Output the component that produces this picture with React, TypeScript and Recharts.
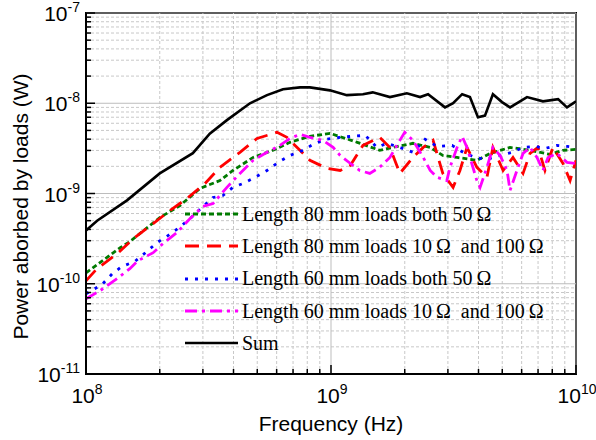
import React from 'react'
import {
  LineChart,
  Line,
  XAxis,
  YAxis,
  Legend,
  ReferenceArea,
  ReferenceLine,
} from 'recharts'

// frequency in Hz, absorbed power in W
const sumFreq = [1e8, 1.11e8, 1.47e8, 2.0e8, 2.73e8, 3.2e8, 3.76e8, 4.67e8, 5.48e8, 6.37e8, 7.47e8, 8.2e8, 9.9e8, 1.16e9, 1.35e9, 1.48e9, 1.74e9, 2.04e9, 2.31e9, 2.49e9, 2.92e9, 3.15e9, 3.43e9, 3.69e9, 3.98e9, 4.25e9, 4.58e9, 4.99e9, 5.38e9, 6.31e9, 7.33e9, 8.45e9, 9.19e9, 1e10]
const sumPower = [3.9e-10, 5.0e-10, 8.4e-10, 1.67e-9, 2.8e-9, 4.6e-9, 6.5e-9, 1.0e-8, 1.23e-8, 1.43e-8, 1.5e-8, 1.5e-8, 1.39e-8, 1.23e-8, 1.26e-8, 1.32e-8, 1.17e-8, 1.29e-8, 1.17e-8, 1.26e-8, 9.0e-9, 1.0e-8, 1.26e-8, 1.17e-8, 7.0e-9, 7.3e-9, 1.26e-8, 1.03e-8, 9.0e-9, 1.17e-8, 1.05e-8, 1.11e-8, 9.0e-9, 1.05e-8]

const l80bothFreq = [1e8, 1.14e8, 1.38e8, 1.51e8, 2.0e8, 2.42e8, 2.92e8, 3.52e8, 3.98e8, 4.81e8, 5.8e8, 6.8e8, 8.2e8, 9.9e8, 1.28e9, 1.58e9, 1.79e9, 2.16e9, 2.54e9, 2.86e9, 3.27e9, 3.94e9, 4.46e9, 5.38e9, 6.49e9, 7.83e9, 8.85e9, 1e10]
const l80bothPower = [1.32e-10, 1.71e-10, 2.51e-10, 2.93e-10, 5.41e-10, 7.36e-10, 1.14e-9, 1.39e-9, 1.8e-9, 2.51e-9, 3.01e-9, 3.69e-9, 4.3e-9, 4.64e-9, 3.69e-9, 3.01e-9, 3.24e-9, 3.6e-9, 3.24e-9, 2.64e-9, 2.51e-9, 2.33e-9, 2.78e-9, 3.24e-9, 3.01e-9, 2.71e-9, 3.01e-9, 3.08e-9]

const l80mixFreq = [1e8, 1.11e8, 1.34e8, 1.56e8, 1.88e8, 2.2e8, 2.58e8, 3.06e8, 3.52e8, 4.25e8, 4.99e8, 6.02e8, 6.61e8, 7.47e8, 8.2e8, 9.63e8, 1.09e9, 1.2e9, 1.35e9, 1.58e9, 1.74e9, 1.91e9, 2.16e9, 2.38e9, 2.61e9, 2.86e9, 3.15e9, 3.36e9, 3.59e9, 3.94e9, 4.33e9, 4.58e9, 5.04e9, 5.53e9, 6.08e9, 6.49e9, 7.0e9, 7.47e9, 8.05e9, 8.85e9, 9.46e9, 1e10]
const l80mixPower = [1.08e-10, 1.47e-10, 2.15e-10, 3.16e-10, 4.64e-10, 6.47e-10, 8.8e-10, 1.29e-9, 1.95e-9, 2.86e-9, 4.08e-9, 4.76e-9, 4.19e-9, 3.01e-9, 2.33e-9, 1.9e-9, 1.8e-9, 2.05e-9, 3.41e-9, 4.19e-9, 3.24e-9, 1.67e-9, 2.51e-9, 3.24e-9, 3.88e-9, 1.67e-9, 1.17e-9, 1.8e-9, 3.24e-9, 1.95e-9, 1.51e-9, 3.24e-9, 1.8e-9, 2.51e-9, 1.67e-9, 2.78e-9, 3.24e-9, 1.8e-9, 3.24e-9, 2.15e-9, 1.39e-9, 2.33e-9]

const l60bothFreq = [1e8, 1.16e8, 1.28e8, 1.4e8, 1.58e8, 1.77e8, 1.95e8, 2.16e8, 2.37e8, 2.66e8, 2.97e8, 3.3e8, 3.62e8, 3.98e8, 4.37e8, 4.9e8, 5.48e8, 6.08e8, 6.8e8, 7.69e8, 8.45e8, 9.46e8, 1.09e9, 1.22e9, 1.38e9, 1.54e9, 1.69e9, 1.91e9, 2.16e9, 2.42e9, 2.71e9, 3.12e9, 3.46e9, 3.87e9, 4.33e9, 4.9e9, 5.48e9, 6.08e9, 6.8e9, 7.47e9, 8.36e9, 9.19e9, 1e10]
const l60bothPower = [7.74e-11, 9.75e-11, 1.29e-10, 1.55e-10, 1.76e-10, 2.27e-10, 2.86e-10, 3.41e-10, 4.08e-10, 5.27e-10, 7.0e-10, 9.03e-10, 9.5e-10, 1.17e-9, 1.29e-9, 1.51e-9, 1.8e-9, 2.21e-9, 2.64e-9, 3.01e-9, 3.5e-9, 3.98e-9, 4.19e-9, 4.3e-9, 4.41e-9, 3.24e-9, 3.6e-9, 3.24e-9, 2.86e-9, 3.98e-9, 3.33e-9, 3.41e-9, 2.86e-9, 2.51e-9, 2.39e-9, 2.64e-9, 2.86e-9, 3.24e-9, 3.33e-9, 3.16e-9, 3.41e-9, 3.33e-9, 3.24e-9]

const l60mixFreq = [1e8, 1.14e8, 1.34e8, 1.51e8, 1.63e8, 1.88e8, 2.06e8, 2.35e8, 2.66e8, 3.0e8, 3.3e8, 3.76e8, 4.25e8, 4.81e8, 5.48e8, 6.19e8, 6.8e8, 7.47e8, 8.2e8, 9.27e8, 1.02e9, 1.09e9, 1.2e9, 1.31e9, 1.44e9, 1.58e9, 1.74e9, 1.91e9, 2.0e9, 2.16e9, 2.38e9, 2.54e9, 2.71e9, 2.97e9, 3.06e9, 3.27e9, 3.43e9, 3.59e9, 3.94e9, 4.06e9, 4.33e9, 4.58e9, 4.9e9, 5.23e9, 5.38e9, 5.74e9, 6.08e9, 6.49e9, 6.93e9, 7.33e9, 7.69e9, 8.36e9, 9.19e9, 1e10]
const l60mixPower = [6.81e-11, 8.36e-11, 1.14e-10, 1.47e-10, 1.8e-10, 2.21e-10, 2.78e-10, 3.69e-10, 5.27e-10, 7.18e-10, 7.74e-10, 1.17e-9, 1.67e-9, 2.33e-9, 2.86e-9, 3.41e-9, 4.08e-9, 4.53e-9, 4.19e-9, 3.88e-9, 3.24e-9, 2.64e-9, 2.15e-9, 1.8e-9, 1.67e-9, 1.95e-9, 2.51e-9, 3.88e-9, 4.76e-9, 3.88e-9, 2.51e-9, 1.8e-9, 1.51e-9, 1.39e-9, 1.95e-9, 3.24e-9, 4.3e-9, 3.24e-9, 1.39e-9, 1.17e-9, 1.95e-9, 3.24e-9, 2.64e-9, 1.8e-9, 1.08e-9, 1.8e-9, 2.78e-9, 3.24e-9, 2.51e-9, 1.8e-9, 2.51e-9, 2.78e-9, 2.21e-9, 2.15e-9]

// axis decades and the in-between mantissas for minor ticks / grid
const xDecades = [1e8, 1e9, 1e10]
const yDecades = [1e-11, 1e-10, 1e-9, 1e-8, 1e-7]
const mantissas = [2, 3, 4, 5, 6, 7, 8, 9]

const minorsOf = (decades: number[]) =>
  decades.slice(0, -1).flatMap((d) => mantissas.map((m) => m * d))
const xMinor = minorsOf(xDecades)
const yMinor = minorsOf(yDecades)

const zip = (f: number[], p: number[]) => f.map((v, i) => ({ f: v, p: p[i] }))

const series = [
  { name: 'Length 80 mm loads both 50\u2009Ω', data: zip(l80bothFreq, l80bothPower), color: '#007a00', dash: '5 3', width: 2.8 },
  { name: 'Length 80 mm loads 10\u2009Ω\u00a0 and 100\u2009Ω', data: zip(l80mixFreq, l80mixPower), color: '#ff0000', dash: '14 8', width: 2.8 },
  { name: 'Length 60 mm loads both 50\u2009Ω', data: zip(l60bothFreq, l60bothPower), color: '#0000ff', dash: '3 7', width: 2.8 },
  { name: 'Length 60 mm loads 10\u2009Ω\u00a0 and 100\u2009Ω', data: zip(l60mixFreq, l60mixPower), color: '#ff00ff', dash: '12 5 3 5', width: 2.8 },
  { name: 'Sum', data: zip(sumFreq, sumPower), color: '#000000', dash: undefined, width: 2.6 },
]

const SANS = '"Liberation Sans", Arial, sans-serif'
const SERIF = '"Liberation Serif", "Times New Roman", serif'

const isDecade = (v: number) => Math.abs(Math.log10(v) - Math.round(Math.log10(v))) < 1e-6

const XTick = (props: any) => {
  const { x, y, payload } = props
  const major = isDecade(payload.value)
  const exp = Math.round(Math.log10(payload.value))
  return (
    <g>
      <line x1={x} x2={x} y1={y} y2={y - (major ? 9 : 5)} stroke="#000" strokeWidth={1.5} />
      {major && (
        <text x={x + 1} y={y + 29} textAnchor="middle" fontFamily={SANS} fontSize={21} fill="#000">
          <tspan>10</tspan>
          <tspan dy={-9} fontSize={14}>{exp}</tspan>
        </text>
      )}
    </g>
  )
}

const YTick = (props: any) => {
  const { x, y, payload } = props
  const major = isDecade(payload.value)
  const exp = Math.round(Math.log10(payload.value))
  return (
    <g>
      <line x1={x} x2={x + (major ? 9 : 5)} y1={y} y2={y} stroke="#000" strokeWidth={1.5} />
      {major && (
        <text x={x - 6} y={y + 8} textAnchor="end" fontFamily={SANS} fontSize={21} fill="#000">
          <tspan>10</tspan>
          <tspan dy={-9} fontSize={14}>{exp}</tspan>
        </text>
      )}
    </g>
  )
}

const YTitle = (props: any) => {
  const { viewBox } = props
  const cx = viewBox.x + 20
  const cy = viewBox.y + viewBox.height / 2 + 13
  return (
    <text
      x={cx}
      y={cy}
      transform={`rotate(-90 ${cx} ${cy})`}
      textAnchor="middle"
      dominantBaseline="central"
      fontFamily={SANS}
      fontSize={21}
      fill="#000"
    >
      Power aborbed by loads (W)
    </text>
  )
}

const LegendBox = () => (
  <div style={{ fontFamily: SERIF, fontSize: 20, color: '#000' }}>
    {series.map((s) => (
      <div key={s.name} style={{ display: 'flex', alignItems: 'center', height: 32.3 }}>
        <svg width={57} height={10} style={{ flex: 'none' }}>
          <line x1={0} x2={53} y1={5} y2={5} stroke={s.color} strokeWidth={s.width} strokeDasharray={s.dash} />
        </svg>
        <span style={{ whiteSpace: 'pre' }}>{s.name}</span>
      </div>
    ))}
  </div>
)

const minorGrid = { stroke: '#c8c8c8', strokeDasharray: '3 2', strokeWidth: 1 }
const majorGrid = { stroke: '#bdbdbd', strokeWidth: 1 }

export default function App() {
  return (
    <div style={{ position: 'absolute', left: 0, top: 0, width: 596, height: 440, background: '#fff' }}>
      <LineChart width={596} height={440} margin={{ top: 13, right: 20, bottom: 0, left: 0 }}>
        <XAxis
          dataKey="f"
          type="number"
          scale="log"
          domain={[1e8, 1e10]}
          allowDataOverflow
          ticks={[...xDecades, ...xMinor]}
          interval={0}
          tickSize={0}
          tickMargin={0}
          tickLine={false}
          tick={<XTick />}
          height={66}
          axisLine={{ stroke: '#000', strokeWidth: 2 }}
          label={{ value: 'Frequency (Hz)', position: 'insideBottom', offset: 9, fontFamily: SANS, fontSize: 21, fill: '#000' }}
        />
        <YAxis
          dataKey="p"
          type="number"
          scale="log"
          domain={[1e-11, 1e-7]}
          allowDataOverflow
          ticks={[...yDecades, ...yMinor]}
          interval={0}
          tickSize={0}
          tickMargin={0}
          tickLine={false}
          tick={<YTick />}
          width={86}
          axisLine={{ stroke: '#000', strokeWidth: 2 }}
          label={<YTitle />}
        />
        {xMinor.map((v) => (
          <ReferenceLine key={`xm${v}`} x={v} {...minorGrid} />
        ))}
        {yMinor.map((v) => (
          <ReferenceLine key={`ym${v}`} y={v} {...minorGrid} />
        ))}
        {xDecades.map((v) => (
          <ReferenceLine key={`xM${v}`} x={v} {...majorGrid} />
        ))}
        {yDecades.map((v) => (
          <ReferenceLine key={`yM${v}`} y={v} {...majorGrid} />
        ))}
        <ReferenceArea x1={1e8} x2={1e10} y1={1e-11} y2={1e-7} fill="none" stroke="#000" strokeWidth={2} />
        {series.map((s) => (
          <Line
            key={s.name}
            data={s.data}
            dataKey="p"
            name={s.name}
            type="linear"
            stroke={s.color}
            strokeWidth={s.width}
            strokeDasharray={s.dash}
            dot={false}
            activeDot={false}
            isAnimationActive={false}
          />
        ))}
        <Legend
          layout="vertical"
          align="center"
          verticalAlign="middle"
          content={<LegendBox />}
          wrapperStyle={{ left: 185, top: 198, width: 380 }}
        />
      </LineChart>
    </div>
  )
}
